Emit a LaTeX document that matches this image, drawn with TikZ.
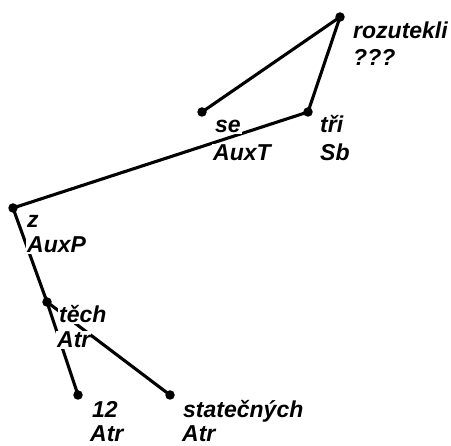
\documentclass[tikz,border=0pt]{standalone}
\usepackage{fontspec}
\setmainfont{Liberation Sans}
\tikzset{
  edge/.style={line width=3.1pt},
  dot/.style={circle, fill=black, inner sep=0pt, minimum size=9.5pt},
  lab/.style={anchor=base west, fill=white, inner sep=1pt,
    font=\fontsize{23}{26}\selectfont\bfseries\itshape},
}
\begin{document}
\begin{tikzpicture}[x=1pt,y=-1pt]
\useasboundingbox (0,0) rectangle (451,446);
% nodes (dots)
\node[dot] (rozutekli) at (340,17) {};
\node[dot] (se) at (202,112) {};
\node[dot] (tri) at (308,112) {};
\node[dot] (z) at (13,208) {};
\node[dot] (tech) at (47,302) {};
\node[dot] (n12) at (78,395) {};
\node[dot] (stat) at (170,395) {};
% edges
\draw[edge] (rozutekli.center) -- (se.center);
\draw[edge] (rozutekli.center) -- (tri.center);
\draw[edge] (tri.center) -- (z.center);
\draw[edge] (z.center) -- (tech.center);
\draw[edge] (tech.center) -- (n12.center);
\draw[edge] (tech.center) -- (stat.center);
% labels
\node[lab, xshift=12pt, yshift=-22pt] (rozutekli-a) at (rozutekli) {rozutekli};
\node[lab, xshift=12pt, yshift=-49pt] (rozutekli-b) at (rozutekli) {???};
\node[lab, xshift=12pt, yshift=-21pt] (se-a) at (se) {se};
\node[lab, xshift=10pt, yshift=-49pt] (se-b) at (se) {AuxT};
\node[lab, xshift=11pt, yshift=-21pt] (tri-a) at (tri) {tři};
\node[lab, xshift=11pt, yshift=-49pt] (tri-b) at (tri) {Sb};
\node[lab, xshift=13pt, yshift=-20pt] (z-a) at (z) {z};
\node[lab, xshift=13pt, yshift=-45pt] (z-b) at (z) {AuxP};
\node[lab, xshift=11pt, yshift=-21pt] (tech-a) at (tech) {těch};
\node[lab, xshift=9pt, yshift=-46pt] (tech-b) at (tech) {Atr};
\node[lab, xshift=13pt, yshift=-23pt] (n12-a) at (n12) {12};
\node[lab, xshift=11pt, yshift=-47pt] (n12-b) at (n12) {Atr};
\node[lab, xshift=12pt, yshift=-23pt] (stat-a) at (stat) {statečných};
\node[lab, xshift=11pt, yshift=-47pt] (stat-b) at (stat) {Atr};
\end{tikzpicture}
\end{document}
